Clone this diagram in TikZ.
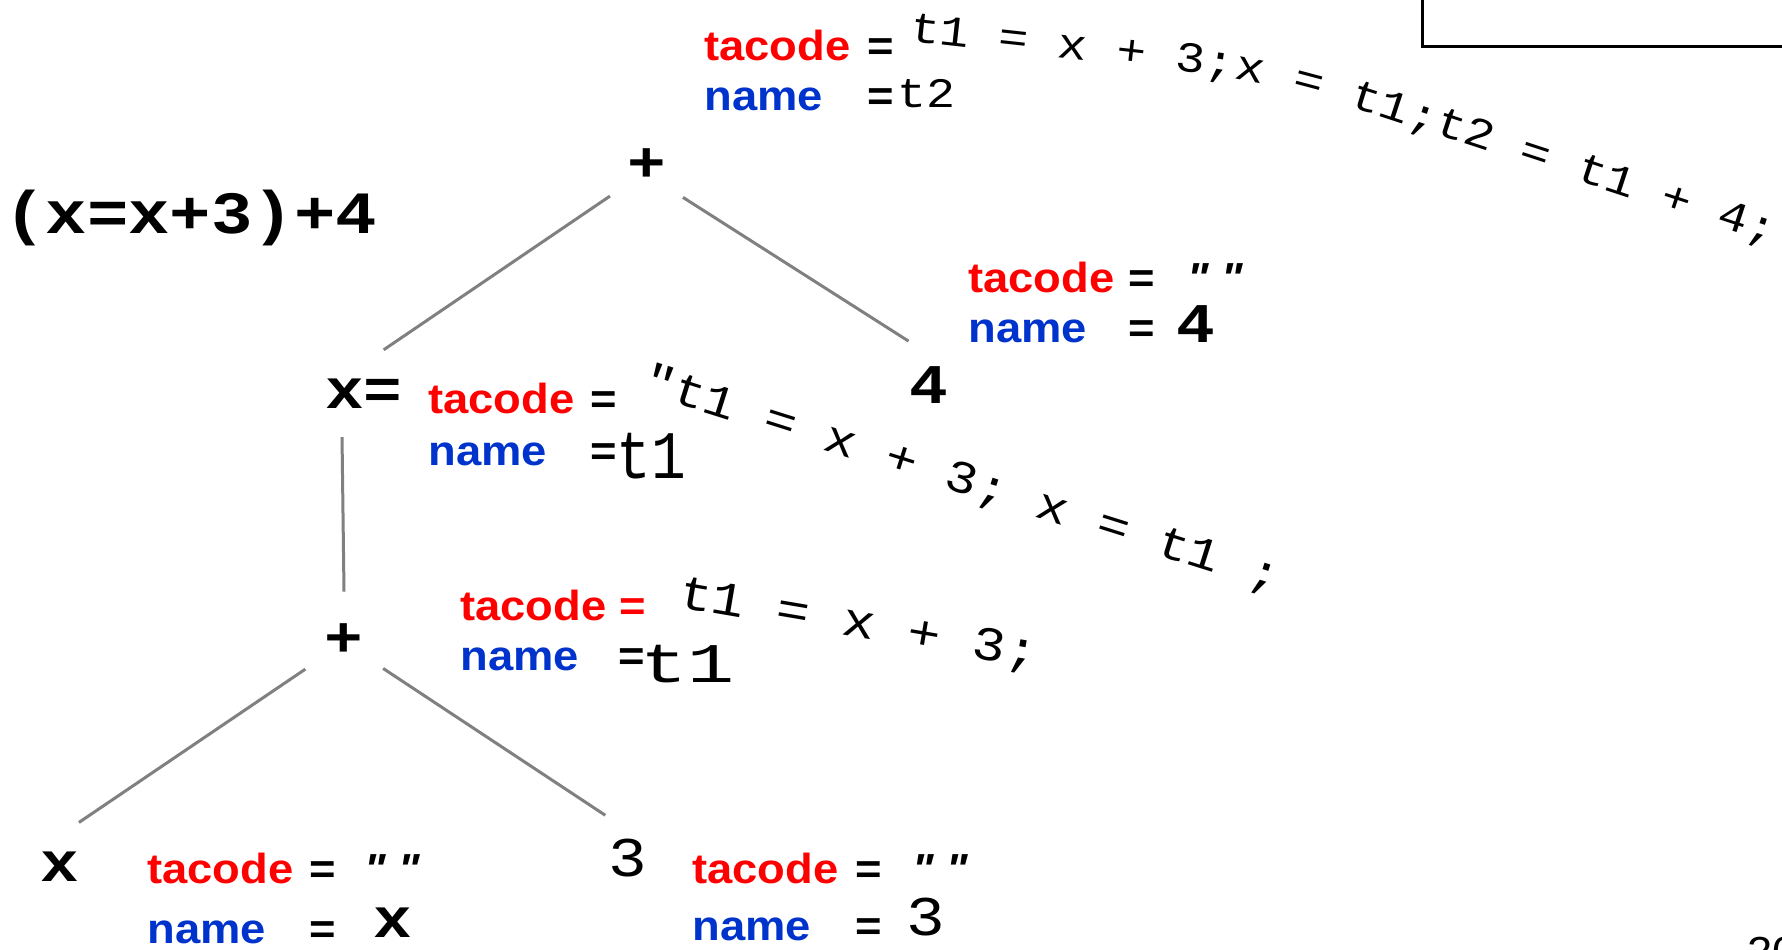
\documentclass[tikz,border=0pt]{standalone}
\usepackage{fontspec}
\usepackage{tikz}
\usetikzlibrary{decorations.text}
\newfontfamily\labelfont[FakeStretch=1.08]{Liberation Sans}
\newfontfamily\codefont[FakeStretch=1.15]{Liberation Mono}
\newfontfamily\tallfont[FakeStretch=0.85]{Liberation Mono}
\newfontfamily\widefont[FakeStretch=1.4]{Liberation Mono}
\newcommand{\fsz}[1]{\fontsize{#1}{#1}\selectfont}
\definecolor{tared}{RGB}{255,0,0}
\definecolor{nameblue}{RGB}{0,51,204}
\definecolor{edgegray}{RGB}{128,128,128}

\begin{document}
\begin{tikzpicture}[x=0.5pt,y=-0.5pt]
        \tikzset{tnode/.style = {shape=circle,minimum size=48pt,inner sep=0pt,font=\codefont\bfseries\fsz{28}}}
        \tikzset{edge/.style = {draw=edgegray,line width=1.5pt}}
        \tikzset{attr/.style = {anchor=base west,inner sep=0pt,font=\labelfont\bfseries\fsz{21}}}
        \tikzset{code/.style = {attr,text=tared}}
        \tikzset{nm/.style = {attr,text=nameblue}}
        \tikzset{quote/.style = {attr,font=\labelfont\bfseries\itshape\fsz{21}}}
        \tikzset{val/.style = {anchor=base west,inner sep=0pt,font=\codefont\fsz{21}}}
        \useasboundingbox (0,0) rectangle (1782,949);
        \clip (0,0) rectangle (1782,949);
        % expression and frame
        \node[anchor=base west,inner sep=0pt,font=\codefont\bfseries\fsz{30}] (expr) at (4,233) {(x=x+3)+4};
        \draw[line width=1.5pt] (1422,-20) rectangle (1820,46);
        \node[anchor=base west,inner sep=0pt,font=\labelfont\fsz{21}] (page) at (1747,966) {20};
        % vertices
        \node[tnode] (plusA) at (647,165) {+};
        \node[tnode] (asg) at (364,394) {x=};
        \node[tnode] (four) at (929,385) {4};
        \node[tnode] (plusB) at (344,640) {+};
        \node[tnode] (leafx) at (60,867) {x};
        \node[tnode,font=\codefont\fsz{28}] (three) at (628,858) {3};
        %edges
        \draw[edge] (plusA.220) -- (asg.66);
        \draw[edge] (plusA.318) -- (four.115);
        \draw[edge] (asg.243) -- (plusB.90);
        \draw[edge] (plusB.217) -- (leafx.67);
        \draw[edge] (plusB.324) -- (three.118);
        % attributes of +
        \node[code] (codeA) at (704,60) {tacode};
        \node[attr] (eqA1) at (867,60) {=};
        \node[nm] (nameA) at (704,110) {name};
        \node[attr] (eqA2) at (867,110) {=};
        \node[val] (valA) at (897,107) {t2};
        \path[decorate,decoration={text along path,text align=left,
            text={|\codefont\fsz{21.5}|t1 = x + 3;x = t1;t2 = t1 + 4;}}]
            (909,41) -- (1190,72) .. controls (1250,79) and (1300,91) .. (1370,113) -- (1850,270);
        % attributes of x=
        \node[code] (codeB) at (428,413) {tacode};
        \node[attr] (eqB1) at (590,413) {=};
        \node[nm] (nameB) at (428,465) {name};
        \node[attr] (eqB2) at (590,465) {=};
        \node[val,font=\tallfont\fsz{34}] (valB) at (616,478) {t1};
        \path[decorate,decoration={text along path,text align=left,
            text={|\codefont\fsz{23}|"t1 = x + 3; x = t1 ;}}]
            (640,392) -- (1360,619);
        % attributes of 4
        \node[code] (codeD) at (968,292) {tacode};
        \node[attr] (eqD1) at (1128,292) {=};
        \node[quote] (valD1) at (1187,292) {" "};
        \node[nm] (nameD) at (968,342) {name};
        \node[attr] (eqD2) at (1128,342) {=};
        \node[val,font=\codefont\bfseries\fsz{28}] (valD2) at (1176,342) {4};
        % attributes of lower +
        \node[code] (codeC) at (460,620) {tacode =};
        \node[nm] (nameC) at (460,670) {name};
        \node[attr] (eqC) at (618,670) {=};
        \node[val,font=\widefont\fsz{28}] (valC) at (640,682) {t1};
        \path[decorate,decoration={text along path,text align=left,
            text={|\codefont\fsz{24}|t1 = x + 3;}}]
            (677,607) -- (1140,686);
        % attributes of x
        \node[code] (codeE) at (147,883) {tacode};
        \node[attr] (eqE1) at (309,883) {=};
        \node[quote] (valE1) at (364,883) {" "};
        \node[nm] (nameE) at (147,943) {name};
        \node[attr] (eqE2) at (309,943) {=};
        \node[val,font=\codefont\bfseries\fsz{28}] (valE2) at (373,937) {x};
        % attributes of 3
        \node[code] (codeF) at (692,883) {tacode};
        \node[attr] (eqF1) at (855,883) {=};
        \node[quote] (valF1) at (912,883) {" "};
        \node[nm] (nameF) at (692,940) {name};
        \node[attr] (eqF2) at (855,940) {=};
        \node[val,font=\codefont\fsz{28}] (valF2) at (906,935) {3};
\end{tikzpicture}
\end{document}
